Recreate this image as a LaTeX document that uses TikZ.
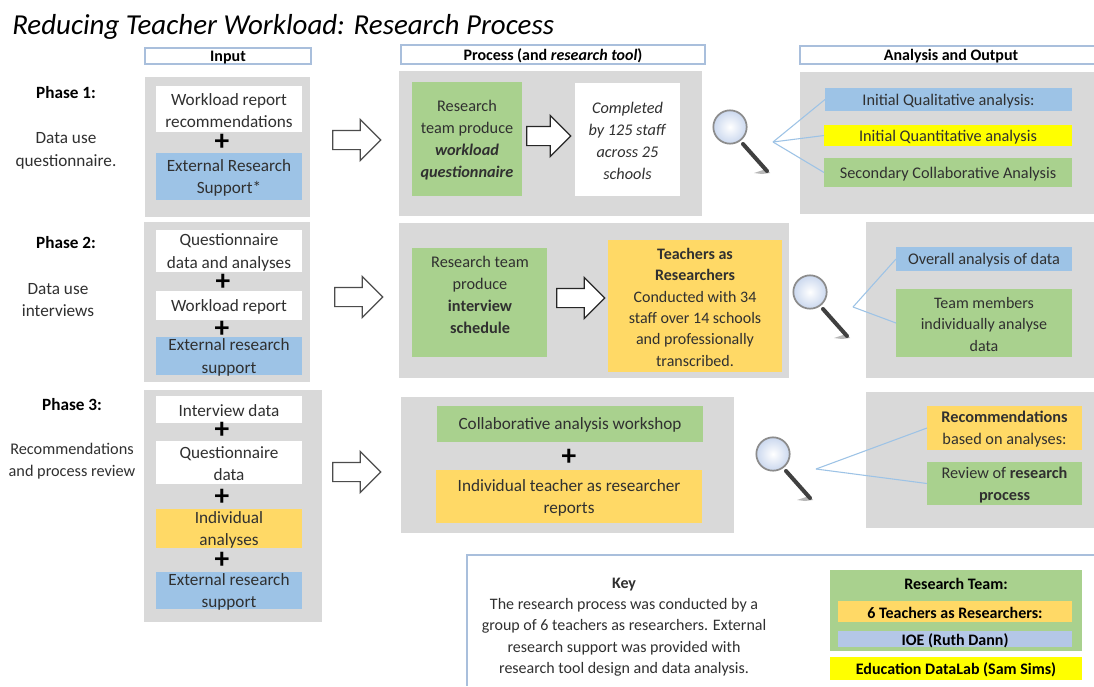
\documentclass[tikz,border=0pt]{standalone}
\usepackage{fontspec}
\setmainfont{Carlito}
\usetikzlibrary{shapes.arrows}
\definecolor{gbg}{HTML}{D9D9D9}
\definecolor{cblue}{HTML}{9DC3E6}
\definecolor{cyel}{HTML}{FFFF00}
\definecolor{cgreen}{HTML}{A9D18E}
\definecolor{cgold}{HTML}{FFD966}
\definecolor{cpale}{HTML}{B4C7E7}
\definecolor{chead}{HTML}{A9BFDC}
\definecolor{ctxt}{HTML}{303030}
\tikzset{
  bbox/.style={inner sep=0pt,outer sep=0pt,align=center,text=ctxt,font=\fontsize{12.2}{16.6}\selectfont},
  big/.style={font=\fontsize{12.9}{16.8}\selectfont},
  tight/.style={font=\fontsize{12}{16}\selectfont},
  keybold/.style={font=\fontsize{12}{14}\selectfont\bfseries,text=black},
  label/.style={inner sep=0pt,align=center,text=ctxt,font=\fontsize{12.2}{16.8}\selectfont},
  phasehead/.style={inner sep=0pt,text=black,font=\fontsize{12.9}{16}\selectfont\bfseries},
  headbox/.style={draw=chead,line width=1pt,text=black,font=\fontsize{12}{13}\selectfont\bfseries},
  plus/.style={inner sep=0pt,text=black,font=\fontsize{22}{22}\selectfont\bfseries},
  blockarrow/.style={single arrow,draw=#1,fill=white,line width=0.9pt,inner sep=0pt,
    text height=13.5pt,text depth=0pt,text width=1pt,
    minimum height=36pt,single arrow head extend=8.25pt,single arrow head indent=0pt},
  link/.style={draw=cblue,line width=0.8pt},
}
\newcommand{\bx}[8][]{%
  \pgfmathsetmacro\bw{(#5-#3)*0.75}\pgfmathsetmacro\bh{(#6-#4)*0.75}%
  \node[bbox,#1,text opacity=0,fill=#7,minimum width=\bw pt,minimum height=\bh pt,text height=0pt,text depth=0pt] (#2) at ({(#3+#5)/2},{(#4+#6)/2}) {};
  \node[bbox,#1,draw=none,fill=none,yshift=-1pt] (#2t) at (#2.center) {#8};}
\newcommand{\magnify}[3]{%
  \begin{scope}[shift={(#2,#3)}]
    \fill[black!55,opacity=.5] (24,46) -- (36,42) -- (40,46) -- (32,47) -- cycle;
    \draw[black!75,line width=3pt,line cap=round] (13,17) -- (37,44);
    \draw[black!45,line width=1.3pt,inner color=white,outer color=cpale!70] (0,0) circle[radius=12.5pt];
  \end{scope}
  \coordinate (#1) at ({#2+43},{#3+15});}
\begin{document}
\begin{tikzpicture}[x=0.75pt,y=-0.75pt]
\useasboundingbox (0,0) rectangle (1094,686);
\fill[white] (0,0) rectangle (1094,686);
\node[anchor=base west,inner sep=0pt,text=black,font=\fontsize{21.7}{25}\selectfont\itshape] (title) at (12,34) {Reducing Teacher Workload: Research Process};
% headers
\bx[headbox]{h1}{145}{48}{311}{64}{white}{Input}
\bx[headbox]{h2}{401}{45}{705}{64}{white}{Process (and \textit{research tool})}
\bx[headbox]{h3}{800}{46}{1102}{64}{white}{Analysis and Output}
% phase labels
\node[phasehead] (p1) at (66,93) {Phase 1:};
\node[label,big] (p1t) at (66,151) {Data use\\questionnaire.};
\node[phasehead] (p2) at (66,243) {Phase 2:};
\node[label,big] (p2t) at (58,300) {Data use\\interviews};
\node[phasehead] (p3) at (72,405) {Phase 3:};
\node[label] (p3t) at (72,461) {Recommendations\\and process review};
% gray panels
\bx{g1a}{145}{77}{310}{217}{gbg}{}
\bx{g1b}{399}{71}{702}{216}{gbg}{}
\bx{g1c}{800}{72}{1094}{214}{gbg}{}
\bx{g2a}{144}{222}{310}{382}{gbg}{}
\bx{g2b}{399}{223}{789}{378}{gbg}{}
\bx{g2c}{866}{222}{1094}{378}{gbg}{}
\bx{g3a}{144}{390}{322}{622}{gbg}{}
\bx{g3b}{401}{397}{734}{533}{gbg}{}
\bx{g3c}{866}{392}{1094}{528}{gbg}{}
% phase 1
\bx[big]{a1}{156}{86}{302}{132}{white}{Workload report\\recommendations}
\bx[big]{a2}{156}{153}{302}{200}{cblue}{External Research\\Support*}
\node[plus] (pa1) at (222,142) {+};
\bx{b1}{412}{82}{522}{196}{cgreen}{Research\\team produce\\\textbf{\textit{workload}}\\\textbf{\textit{questionnaire}}}
\bx{b2}{575}{83}{680}{196}{white}{\textit{Completed}\\\textit{by 125 staff}\\\textit{across 25}\\\textit{schools}}
\bx{c1}{825}{88}{1072}{111}{cblue}{Initial Qualitative analysis:}
\bx{c2}{824}{125}{1072}{146}{cyel}{Initial Quantitative analysis}
\bx{c3}{824}{158}{1072}{187}{cgreen}{Secondary Collaborative Analysis}
\node[blockarrow=black!70] (ar1) at (352,140) {};
\node[blockarrow=black!85,minimum height=33pt] (ar1b) at (544,136) {};
\magnify{hub1}{730}{127}
\draw[link] (hub1) -- (c1.west);
\draw[link] (hub1) -- (c2.west);
\draw[link] (hub1) -- (c3.west);
% phase 2
\bx[big]{d1}{156}{230}{302}{272}{white}{Questionnaire\\data and analyses}
\node[plus] (pd1) at (223,282) {+};
\bx[big]{d2}{156}{291}{302}{320}{white}{Workload report}
\node[plus] (pd2) at (222,329) {+};
\bx[big]{d3}{156}{337}{302}{375}{cblue}{External research\\support}
\bx{e1}{412}{248}{547}{357}{cgreen}{}
\node[bbox] (e1t) at (480,295) {Research team\\produce\\\textbf{interview}\\\textbf{schedule}};
\bx[tight]{e2}{608}{240}{782}{372}{cgold}{\textbf{Teachers as}\\\textbf{Researchers}\\Conducted with 34\\staff over 14 schools\\and professionally\\transcribed.}
\bx{f1}{896}{247}{1072}{271}{cblue}{Overall analysis of data}
\bx[tight]{f2}{896}{289}{1072}{357}{cgreen}{Team members\\individually analyse\\data}
\node[blockarrow=black!70] (ar2) at (354,297) {};
\node[blockarrow=black!85] (ar2b) at (576,298) {};
\magnify{hub2}{810}{292}
\draw[link] (hub2) -- (f1.west);
\draw[link] (hub2) -- (f2.west);
% phase 3
\bx[big]{i1}{156}{396}{302}{423}{white}{Interview data}
\node[plus] (pi1) at (222,430) {+};
\bx[big]{i2}{156}{441}{302}{484}{white}{Questionnaire\\data}
\node[plus] (pi2) at (222,497) {+};
\bx[big]{i3}{156}{509}{302}{548}{cgold}{Individual\\analyses}
\node[plus] (pi3) at (222,560) {+};
\bx[big]{i4}{156}{572}{302}{609}{cblue}{External research\\support}
\bx[big]{j1}{437}{406}{703}{442}{cgreen}{Collaborative analysis workshop}
\node[plus] (pj1) at (569,457) {+};
\bx[big]{j2}{436}{470}{702}{523}{cgold}{Individual teacher as researcher\\reports}
\bx{k1}{927}{406}{1082}{450}{cgold}{\textbf{Recommendations}\\based on analyses:}
\bx{k2}{927}{462}{1082}{505}{cgreen}{Review of \textbf{research}\\\textbf{process}}
\node[blockarrow=black!70] (ar3) at (352,472) {};
\magnify{hub3}{773}{454}
\draw[link] (hub3) -- (k1.west);
\draw[link] (hub3) -- (k2.west);
% key
\draw[chead,line width=1.1pt] (1094,555) -- (467,555) -- (467,686);
\node[label,font=\fontsize{12}{16}\selectfont] (keytxt) at (624,627) {\textbf{Key}\\The research process was conducted by a\\group of 6 teachers as researchers. External\\research support was provided with\\research tool design and data analysis.};
\bx{m1}{830}{570}{1082}{651}{cgreen}{}
\node[bbox,keybold] (m1t) at (956,584) {Research Team:};
\bx[keybold]{m2}{838}{601}{1072}{622}{cgold}{6 Teachers as Researchers:}
\bx[keybold]{m3}{838}{631}{1072}{647}{cpale}{IOE (Ruth Dann)}
\bx[keybold]{m4}{830}{657}{1082}{680}{cyel}{Education DataLab (Sam Sims)}
\end{tikzpicture}
\end{document}
